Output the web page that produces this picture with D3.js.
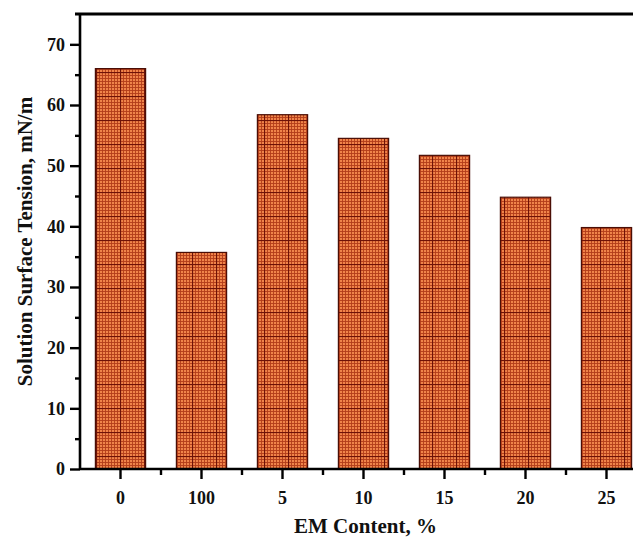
<!DOCTYPE html>
<html>
<head>
<meta charset="utf-8">
<script src="https://cdn.jsdelivr.net/npm/d3@7"></script>
<style>
  html, body { margin: 0; padding: 0; background: #fff; }
  svg { display: block; }
  text { font-family: "Liberation Serif", "Times New Roman", serif; font-weight: bold; fill: #111; }
</style>
</head>
<body>
<svg id="chart" width="633" height="541"></svg>
<script>
// EM content categories and measured surface tension (mN/m)
const categories = ["0", "100", "5", "10", "15", "20", "25"];
const tension = [66.0, 35.7, 58.4, 54.5, 51.7, 44.8, 39.8];
const yTicks = [0, 10, 20, 30, 40, 50, 60, 70];
const yMinorTicks = [5, 15, 25, 35, 45, 55, 65];

const svg = d3.select("#chart");
const margin = { top: 14, left: 80, bottom: 469 };
const plotRight = 647;

const x = d3.scaleBand()
  .domain(categories)
  .range([margin.left, plotRight])
  .paddingInner(0.38)
  .paddingOuter(0.19);

const y = d3.scaleLinear()
  .domain([0, 75])
  .range([margin.bottom, margin.top]);

// graph-paper style fill for the bars
const defs = svg.append("defs");
const cell = 3, big = 24;
const pat = defs.append("pattern")
  .attr("id", "grid")
  .attr("patternUnits", "userSpaceOnUse")
  .attr("width", big).attr("height", big);
pat.append("rect").attr("width", big).attr("height", big).attr("fill", "#f0844a");
for (let i = 0; i < big; i += cell) {
  pat.append("line").attr("x1", i + 0.5).attr("x2", i + 0.5).attr("y1", 0).attr("y2", big)
    .attr("stroke", "#b23c18").attr("stroke-width", 0.9);
  pat.append("line").attr("y1", i + 0.5).attr("y2", i + 0.5).attr("x1", 0).attr("x2", big)
    .attr("stroke", "#b23c18").attr("stroke-width", 0.9);
}
pat.append("line").attr("x1", 0.5).attr("x2", 0.5).attr("y1", 0).attr("y2", big)
  .attr("stroke", "#6e1207").attr("stroke-width", 1.2);
pat.append("line").attr("y1", 0.5).attr("y2", 0.5).attr("x1", 0).attr("x2", big)
  .attr("stroke", "#6e1207").attr("stroke-width", 1.2);

// bars
svg.append("g").selectAll("rect")
  .data(categories.map((c, i) => ({ c, v: tension[i] })))
  .join("rect")
  .attr("x", d => x(d.c))
  .attr("y", d => y(d.v))
  .attr("width", x.bandwidth())
  .attr("height", d => y(0) - y(d.v))
  .attr("fill", "url(#grid)")
  .attr("stroke", "#4a0e06")
  .attr("stroke-width", 1.2);

// frame: top border line
svg.append("line")
  .attr("x1", margin.left - 5).attr("x2", plotRight)
  .attr("y1", margin.top).attr("y2", margin.top)
  .attr("stroke", "#000").attr("stroke-width", 3);

// y axis
const yAxis = svg.append("g").attr("transform", `translate(${margin.left},0)`);
yAxis.call(d3.axisLeft(y).tickValues(yTicks).tickSize(10).tickPadding(5).tickFormat(d3.format("d")));
yAxis.append("g").call(d3.axisLeft(y).tickValues(yMinorTicks).tickSize(5).tickFormat(""))
  .select(".domain").remove();
yAxis.selectAll(".domain").attr("stroke-width", 2.6).attr("d", `M0,${margin.top}V${margin.bottom}`);
yAxis.selectAll(".tick line").attr("stroke-width", 2.4);
yAxis.selectAll(".tick text").attr("font-size", 18).style("font-family", "Liberation Serif").style("font-weight", "bold");

// x axis
const xAxis = svg.append("g").attr("transform", `translate(0,${margin.bottom})`);
xAxis.call(d3.axisBottom(x).tickSize(10).tickPadding(12));
xAxis.select(".domain").attr("stroke-width", 2.6).attr("d", `M${margin.left},0H${plotRight}`);
xAxis.selectAll(".tick line").attr("stroke-width", 2.4);
xAxis.selectAll(".tick text").attr("font-size", 18).style("font-family", "Liberation Serif").style("font-weight", "bold");

// minor ticks between categories
const bounds = categories.slice(1).map(c => x(c) - (x.step() - x.bandwidth()) / 2);
xAxis.append("g").selectAll("line")
  .data(bounds)
  .join("line")
  .attr("x1", d => d).attr("x2", d => d)
  .attr("y1", 0).attr("y2", 6)
  .attr("stroke", "#000").attr("stroke-width", 2.4);

// axis titles
svg.append("text")
  .attr("x", (margin.left + plotRight) / 2 + 2)
  .attr("y", 533)
  .attr("text-anchor", "middle")
  .attr("font-size", 21)
  .text("EM Content, %");

svg.append("text")
  .attr("transform", `translate(32,${(margin.top + margin.bottom) / 2}) rotate(-90)`)
  .attr("text-anchor", "middle")
  .attr("font-size", 21)
  .text("Solution Surface Tension, mN/m");
</script>
</body>
</html>
